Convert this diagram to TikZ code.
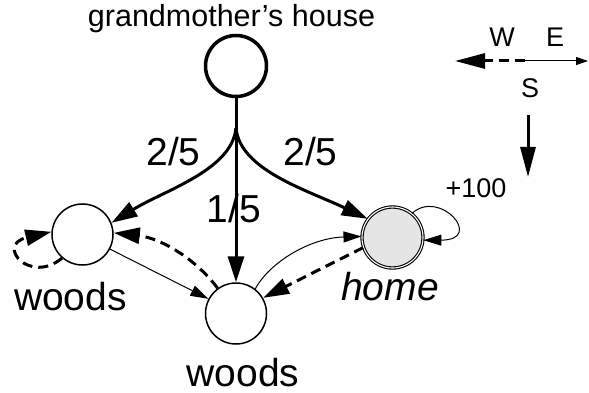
\documentclass[tikz,border=0pt]{standalone}
\usepackage{fontspec}
\setmainfont{Liberation Sans}
\usetikzlibrary{arrows.meta}
\tikzset{
  state/.style={circle, draw, minimum size=61pt, inner sep=0pt, line width=1.5pt},
  startstate/.style={state, line width=3.5pt},
  goalstate/.style={state, line width=1.1pt, double, double distance=1.1pt, fill=gray!20},
  biglbl/.style={font=\fontsize{39}{44}\selectfont, inner sep=0pt, anchor=base},
  midlbl/.style={font=\fontsize{30.5}{35}\selectfont, inner sep=0pt, anchor=base},
  smalllbl/.style={font=\fontsize{27}{31}\selectfont, inner sep=0pt, anchor=base},
  heavy/.style={line width=3pt, -{Triangle[length=26pt,width=16pt]}},
  light/.style={line width=1pt, -{Triangle[length=18pt,width=11pt]}},
  dashy/.style={dash pattern=on 10pt off 6pt},
}
\begin{document}
\begin{tikzpicture}[x=1pt,y=-1pt]
\useasboundingbox (0,0) rectangle (589,393);

% states
\node[startstate] (gh) at (236,66) {};
\node[state] (lw) at (82.5,234.5) {};
\node[state] (bw) at (236,313.5) {};
\node[goalstate] (home) at (392.5,237.5) {};
\coordinate (br) at (236,128);

% labels
\node[midlbl] (ghl) at (231.5,27) {grandmother’s house};
\node[biglbl] (pl) at (173.5,165) {2/5};
\node[biglbl] (pr) at (310.5,165) {2/5};
\node[biglbl] (pm) at (234,222) {1/5};
\node[biglbl] (lwl) at (70.5,310) {woods};
\node[biglbl] (bwl) at (243,386) {woods};
\node[biglbl, font=\fontsize{39}{44}\selectfont\itshape] (hl) at (390,300) {home};
\node[smalllbl] (rw) at (476,197) {+100};

% south action from grandmother's house
\draw[line width=3pt] (gh) -- (br);
\draw[heavy] (br) .. controls (232,170) and (165,190) .. (lw.22);
\draw[heavy] (br) .. controls (240,170) and (307,190) .. (home.143);
\draw[heavy] (br) -- (bw.north);

% east actions
\draw[light] (lw.-28) -- (bw.152);
\draw[light] (bw.52) .. controls (270,262) and (310,238) .. (home.178);
\draw[light] (home.51) .. controls (440,188) and (485,240) .. (home.-5);

% west actions
\draw[heavy, dashy] (bw.126) .. controls (195,258) and (160,238) .. (lw.3);
\draw[heavy, dashy] (home.199) -- (bw.30);
\draw[heavy, dashy] (lw.229) .. controls (30,285) and (-5,245) .. (lw.175);

% compass
\coordinate (cc) at (525,61);
\coordinate (wtip) at (455,61);
\coordinate (etip) at (588,61);
\coordinate (stop) at (528,115);
\coordinate (stip) at (528,177);
\node[smalllbl] (wl) at (502,47) {W};
\node[smalllbl] (el) at (555,47) {E};
\node[smalllbl] (sl) at (530,98) {S};
\draw[line width=3pt, dashy, -{Triangle[length=30pt,width=15pt]}] (cc) -- (wtip);
\draw[line width=1pt, -{Triangle[length=12pt,width=8pt]}] (cc) -- (etip);
\draw[line width=3pt, -{Triangle[length=30pt,width=15pt]}] (stop) -- (stip);
\end{tikzpicture}
\end{document}
